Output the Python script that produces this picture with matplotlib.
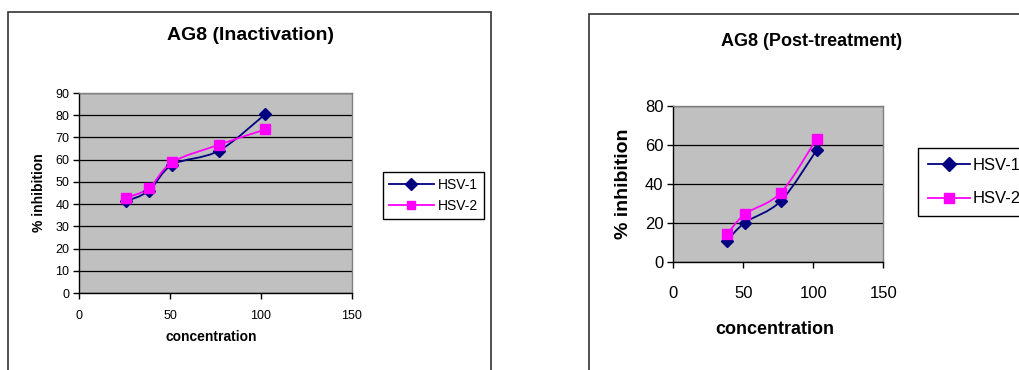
import matplotlib
matplotlib.use("Agg")
import matplotlib.pyplot as plt
from matplotlib.path import Path
from matplotlib.patches import PathPatch, Rectangle
from matplotlib.lines import Line2D

plt.rcParams['font.family'] = ['Liberation Sans', 'DejaVu Sans']

# ---- data ----
conc_inact = [25.6, 38.4, 51.2, 76.8, 102.4]
hsv1_inact = [41.2, 46.0, 57.7, 64.0, 80.5]
hsv2_inact = [42.7, 47.2, 58.8, 66.7, 73.6]

conc_post = [38.4, 51.2, 76.8, 102.4]
hsv1_post = [10.9, 20.2, 31.3, 57.4]
hsv2_post = [14.2, 24.6, 35.6, 63.2]

series_names = ['HSV-1', 'HSV-2']
series_colors = ['#000080', '#FF00FF']
series_markers = ['D', 's']

titles = ['AG8 (Inactivation)', 'AG8 (Post-treatment)']
xlabel = 'concentration'
ylabel = '% inhibition'

W, H = 1020, 370
fig = plt.figure(figsize=(W / 100, H / 100), dpi=100)


def fx(px):
    return px / W


def fy(py):
    return 1 - py / H


def smooth_path(xs, ys):
    n = len(xs)
    verts = [(xs[0], ys[0])]
    codes = [Path.MOVETO]
    for i in range(n - 1):
        x0, y0 = (xs[i - 1], ys[i - 1]) if i > 0 else (xs[i], ys[i])
        x1, y1 = xs[i], ys[i]
        x2, y2 = xs[i + 1], ys[i + 1]
        x3, y3 = (xs[i + 2], ys[i + 2]) if i + 2 < n else (xs[i + 1], ys[i + 1])
        c1 = (x1 + (x2 - x0) / 6, y1 + (y2 - y0) / 6)
        c2 = (x2 - (x3 - x1) / 6, y2 - (y3 - y1) / 6)
        verts += [c1, c2, (x2, y2)]
        codes += [Path.CURVE4] * 3
    return Path(verts, codes)


def make_axes(rect, x, ys, ymax, ystep, fs, xpad, ms):
    ax = fig.add_axes(rect)
    ax.set_facecolor('#C0C0C0')
    ax.set_xlim(0, 150)
    ax.set_ylim(0, ymax)
    ax.set_xticks([0, 50, 100, 150])
    ax.set_yticks(list(range(0, ymax + 1, ystep)))
    ax.yaxis.grid(True, color='black', lw=0.9)
    ax.set_axisbelow(True)
    for s in ['top', 'right']:
        ax.spines[s].set_color('#808080')
        ax.spines[s].set_linewidth(1.0)
    for s in ['left', 'bottom']:
        ax.spines[s].set_color('black')
        ax.spines[s].set_linewidth(1.0)
    ax.tick_params(axis='both', direction='out', length=4, width=1, labelsize=fs,
                   colors='black')
    ax.tick_params(axis='x', pad=xpad)
    ax.tick_params(axis='y', pad=3)
    for yv, c, m in zip(ys, series_colors, series_markers):
        ax.add_patch(PathPatch(smooth_path(x, yv), fill=False, edgecolor=c, lw=1.3,
                               zorder=3))
        ax.plot(x, yv, ls='none', marker=m, color=c, ms=ms, zorder=4)
    return ax


# ---- left chart ----
fig.add_artist(Rectangle((fx(8), fy(400)), fx(491 - 8), fy(12) - fy(400), fill=False,
                         edgecolor='#333333', lw=1.2, transform=fig.transFigure))
axL = make_axes([fx(79), fy(293), fx(352 - 79), fy(93) - fy(293)], conc_inact,
                [hsv1_inact, hsv2_inact], 90, 10, 9, 8, 6.5)
fig.text(fx(251), fy(35), titles[0], ha='center', va='center', fontsize=14,
         fontweight='bold')
fig.text(fx(211), fy(337), xlabel, ha='center', va='center', fontsize=10,
         fontweight='bold')
fig.text(fx(39), fy(193), ylabel, ha='center', va='center', fontsize=10,
         fontweight='bold', rotation=90)

handlesL = [Line2D([], [], color=c, marker=m, lw=1.3, ms=6)
            for c, m in zip(series_colors, series_markers)]
legL = fig.legend(handlesL, series_names, loc='upper left',
                  bbox_to_anchor=(fx(383), fy(172)), fontsize=10, frameon=True,
                  fancybox=False, edgecolor='black', framealpha=1,
                  handlelength=3.3, borderpad=0.4, labelspacing=0.55,
                  handletextpad=0.25, borderaxespad=0)
legL.get_frame().set_linewidth(1.0)

# ---- right chart ----
fig.add_artist(Rectangle((fx(589), fy(400)), fx(1100 - 589), fy(14) - fy(400),
                         fill=False, edgecolor='#333333', lw=1.2,
                         transform=fig.transFigure))
axR = make_axes([fx(673.3), fy(262), fx(883.3 - 673.3), fy(106) - fy(262)], conc_post,
                [hsv1_post, hsv2_post], 80, 20, 12, 13, 6.5)
fig.text(fx(812), fy(41), titles[1], ha='center', va='center', fontsize=13,
         fontweight='bold')
fig.text(fx(775), fy(329), xlabel, ha='center', va='center', fontsize=13,
         fontweight='bold')
fig.text(fx(623), fy(184), ylabel, ha='center', va='center', fontsize=14,
         fontweight='bold', rotation=90)

handlesR = [Line2D([], [], color=c, marker=m, lw=1.3, ms=7)
            for c, m in zip(series_colors, series_markers)]
legR = fig.legend(handlesR, series_names, loc='upper left',
                  bbox_to_anchor=(fx(918), fy(148)), fontsize=12, frameon=True,
                  fancybox=False, edgecolor='black', framealpha=1,
                  handlelength=2.5, borderpad=0.6, labelspacing=1.1,
                  handletextpad=0.2, borderaxespad=0)
legR.get_frame().set_linewidth(1.0)

fig.savefig('out.png', dpi=100)
